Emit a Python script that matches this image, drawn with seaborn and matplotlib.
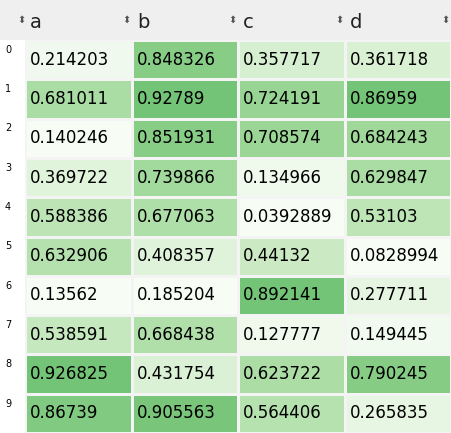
import numpy as np
import pandas as pd
import matplotlib.pyplot as plt
import seaborn as sns

# table values
col_a = [0.214203, 0.681011, 0.140246, 0.369722, 0.588386, 0.632906, 0.13562, 0.538591, 0.926825, 0.86739]
col_b = [0.848326, 0.92789, 0.851931, 0.739866, 0.677063, 0.408357, 0.185204, 0.668438, 0.431754, 0.905563]
col_c = [0.357717, 0.724191, 0.708574, 0.134966, 0.0392889, 0.44132, 0.892141, 0.127777, 0.623722, 0.564406]
col_d = [0.361718, 0.86959, 0.684243, 0.629847, 0.53103, 0.0828994, 0.277711, 0.149445, 0.790245, 0.265835]
labels = ['a', 'b', 'c', 'd']

df = pd.DataFrame({'a': col_a, 'b': col_b, 'c': col_c, 'd': col_d})
# per-column gradient, like Styler.background_gradient
norm = (df - df.min()) / (df.max() - df.min()) * 0.5

fig = plt.figure(figsize=(4.51, 4.33), dpi=100)
W, H = 451, 433
ax = fig.add_axes([25 / W, 0, 426 / W, 393 / H])
sns.heatmap(norm, cmap='Greens', vmin=0, vmax=1, cbar=False, linewidths=0.8,
            linecolor='#f4f4f4', ax=ax)
ax.set_xticks([])
ax.set_yticks([])
for i in range(df.shape[0]):
    for j, c in enumerate(labels):
        ax.text(j + 0.05, i + 0.5, str(df[c][i]), va='center', ha='left', fontsize=12, color='black')

# index column
axi = fig.add_axes([0, 0, 25 / W, 393 / H])
axi.set_xlim(0, 1)
axi.set_ylim(len(df), 0)
axi.axis('off')
for i in range(len(df)):
    axi.text(0.2, i + 0.25, str(i), fontsize=7, va='center', ha='left')

# header
axh = fig.add_axes([0, 393 / H, 1, 40 / H])
axh.set_facecolor('#efefef')
axh.set_xlim(-25 / 106.5, 4)
axh.set_ylim(0, 1)
axh.set_xticks([])
axh.set_yticks([])
for s in axh.spines.values():
    s.set_visible(False)
axh.text(-25 / 106.5 + 0.87 * 25 / 106.5, 0.5, '\u2b0d', fontsize=7, va='center', ha='center', color='#555555')
for j, c in enumerate(labels):
    axh.text(j + 0.05, 0.45, c, fontsize=14, va='center', ha='left', color='#222222')
    axh.text(j + 0.95, 0.5, '\u2b0d', fontsize=7, va='center', ha='center', color='#555555')

fig.savefig('out.png', dpi=100)
